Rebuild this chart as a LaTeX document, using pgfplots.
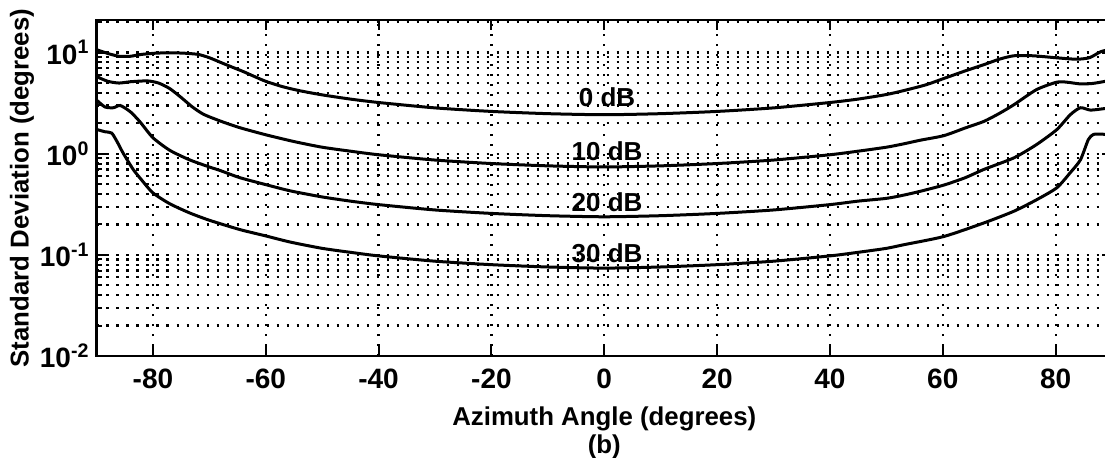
\documentclass[border=0pt]{standalone}
\usepackage{pgfplots}
\pgfplotsset{compat=1.18}
\usepackage{fontspec}
\setmainfont{Liberation Sans}
\begin{document}
\begin{tikzpicture}
\begin{axis}[
  name=ax,
  at={(0,0)}, anchor=south west,
  scale only axis,
  width=507.75pt, height=168pt,
  xmin=-90, xmax=90,
  ymode=log, ymin=0.01, ymax=21,
  log basis y=10,
  xtick={-80,-60,-40,-20,0,20,40,60,80},
  xticklabels={-80,-60,-40,-20,0,20,40,60,80},
  ytick={0.01,0.1,1,10},
  minor ytick={0.02,0.03,0.04,0.05,0.06,0.07,0.08,0.09,0.2,0.3,0.4,0.5,0.6,0.7,0.8,0.9,2,3,4,5,6,7,8,9,20},
  yticklabels={10\textsuperscript{-2},10\textsuperscript{-1},10\textsuperscript{0},10\textsuperscript{1}},
  tick align=inside,
  major tick length=5pt, minor tick length=3pt,
  every tick/.style={black, line width=1pt},
  axis line style={line width=1.3pt},
  xmajorgrids=true, ymajorgrids=true, yminorgrids=true,
  grid style={black, line width=1.1pt, dash pattern=on 1.1pt off 3.9pt},
  minor grid style={black, line width=1.1pt, dash pattern=on 1.1pt off 3.9pt},
  ticklabel style={font=\fontsize{14}{16}\selectfont\bfseries},
  xticklabel style={yshift=-3pt},
  label style={font=\fontsize{12.9}{14}\selectfont\bfseries},
  xlabel={Azimuth Angle (degrees)\\(b)},
  xlabel style={align=center, yshift=-2pt},
  ylabel={Standard Deviation (degrees)},
  ylabel style={yshift=-4pt},
  clip=true,
]
% 0 dB
\addplot[black, line width=1.5pt, smooth, tension=0.4] coordinates {
(-90,10.7) (-88,9.8) (-86,9.2) (-84,9.2) (-82,9.6) (-79,9.9) (-75,9.9) (-72,9.6)
(-70,8.9) (-68,8.0) (-66,7.2) (-64,6.5) (-62,5.8) (-60,5.2) (-57,4.6) (-54,4.2)
(-50,3.82) (-45,3.47) (-40,3.21) (-30,2.84) (-20,2.62) (-10,2.49) (0,2.43)
(10,2.49) (20,2.62) (30,2.84) (40,3.21) (45,3.47) (50,3.85) (53,4.2) (57,4.8)
(60,5.5) (64,6.6) (67.3,7.6) (70,8.6) (72.6,9.3) (76,9.3) (80,8.9) (83.7,8.6)
(86,8.9) (88,10.2) (90,10.9)
};
% 10 dB
\addplot[black, line width=1.5pt, smooth, tension=0.4] coordinates {
(-90,5.8) (-88,5.2) (-86,5.0) (-84,5.15) (-81,5.25) (-79,5.0) (-77,4.4) (-75,3.6)
(-73,2.9) (-71,2.45) (-68,2.1) (-64.6,1.81) (-60,1.54) (-55,1.32) (-50,1.16)
(-45,1.06) (-40,0.977) (-30,0.866) (-20,0.80) (-10,0.759) (0,0.74) (10,0.759)
(20,0.80) (30,0.866) (40,0.977) (45,1.06) (50,1.16) (53,1.25) (56,1.36) (60.2,1.51)
(64,1.8) (67.3,2.09) (70,2.5) (72.6,3.05) (76.6,4.3) (80.2,5.1) (82,5.1) (84.4,4.9)
(86.5,4.95) (88.8,5.2) (90,5.4)
};
% 20 dB
\addplot[black, line width=1.5pt, smooth, tension=0.4] coordinates {
(-90,3.4) (-88.5,2.9) (-87,2.85) (-85.8,3.0) (-84,2.6) (-82.3,2.07) (-80,1.44)
(-77,1.08) (-73.5,0.87) (-70,0.74) (-68,0.68) (-64.6,0.58) (-60,0.495) (-55.7,0.43)
(-50,0.374) (-45,0.34) (-40,0.314) (-30,0.278) (-20,0.257) (-10,0.244) (0,0.238)
(10,0.244) (20,0.257) (30,0.278) (40,0.314) (45,0.34) (50,0.362) (53.1,0.39)
(56,0.425) (60.2,0.49) (64,0.58) (67.3,0.70) (72.6,0.91) (76.6,1.23) (80.2,1.73)
(82.6,2.43) (84.4,2.85) (86.2,2.7) (88.8,2.8) (90,2.8)
};
% 30 dB
\addplot[black, line width=1.5pt, smooth, tension=0.4] coordinates {
(-90,1.74) (-88.5,1.65) (-87.3,1.6) (-86.3,1.3) (-85.3,1.02) (-83.5,0.70) (-82,0.55)
(-80,0.41) (-77,0.32) (-73.5,0.26) (-70,0.22) (-64.6,0.178) (-60,0.154) (-55.7,0.134)
(-50,0.116) (-45,0.106) (-40,0.0977) (-30,0.0866) (-20,0.080) (-10,0.0759) (0,0.074)
(10,0.0759) (20,0.080) (30,0.0866) (40,0.0977) (45,0.106) (50,0.116) (53.1,0.126)
(60.2,0.152) (67.3,0.207) (72.6,0.27) (76.6,0.35) (80.2,0.46) (82.6,0.65) (84.4,0.87)
(85.8,1.38) (86.7,1.55) (88,1.56) (90,1.55)
};
\node[font=\fontsize{13}{15}\selectfont\bfseries] at (axis cs:0.5,3.6) {0 dB};
\node[font=\fontsize{13}{15}\selectfont\bfseries] at (axis cs:0.5,1.05) {10 dB};
\node[font=\fontsize{13}{15}\selectfont\bfseries] at (axis cs:0.5,0.335) {20 dB};
\node[font=\fontsize{13}{15}\selectfont\bfseries] at (axis cs:0.5,0.104) {30 dB};
\end{axis}
\pgfresetboundingbox
\path[use as bounding box] (-48.25pt,-50.5pt) rectangle (504.25pt,178pt);
\end{tikzpicture}
\end{document}
